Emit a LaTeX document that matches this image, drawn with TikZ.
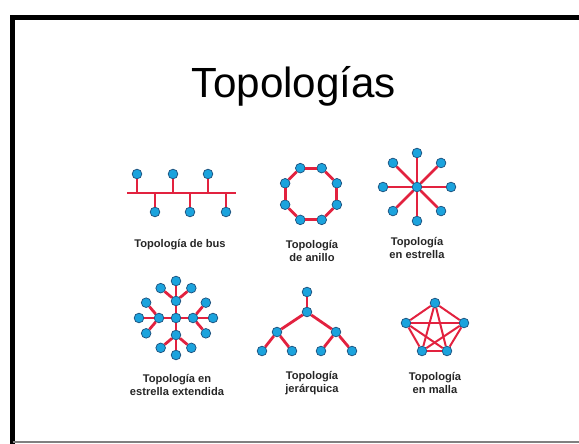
\documentclass[tikz,border=0pt]{standalone}
\usepackage{fontspec}
\setmainfont{Liberation Sans}
\definecolor{linkred}{HTML}{E2223F}
\definecolor{hostblue}{HTML}{1BA3DD}
\definecolor{hostedge}{HTML}{1C4F7C}
\begin{document}
\begin{tikzpicture}[x=0.03cm,y=-0.03cm,
  host/.style={circle,fill=hostblue,draw=hostedge,line width=0.6pt,inner sep=0pt,minimum size=0.29cm},
  link/.style={draw=linkred,line width=2.4pt},
  caption/.style={font=\bfseries\fontsize{9.5}{11}\selectfont,align=center,text=black!85}]
  \useasboundingbox (0,0) rectangle (579,444);
  % frame
  \draw[line width=0.15cm] (12.5,444) -- (12.5,17) -- (579,17);
  \draw[gray,line width=1pt] (12.5,442) -- (579,442);
  \node[font=\fontsize{36}{40}\selectfont,anchor=base] (title) at (294,97) {Topologías};

  % bus
  \coordinate (busL) at (127,193);
  \coordinate (busR) at (236,193);
  \draw[link] (busL) -- (busR);
  \foreach \x [count=\i] in {137,173,208} {
    \node[host] (bu\i) at (\x,174) {};
    \draw[link] (bu\i) -- (bu\i |- busL);
  }
  \foreach \x [count=\i] in {155,190,226} {
    \node[host] (bd\i) at (\x,212) {};
    \draw[link] (bd\i) -- (bd\i |- busL);
  }
  \node[caption] (capbus) at (180,245) {Topología de bus};

  % ring
  \coordinate (ringC) at (311,194);
  \foreach \i in {1,...,8}
    \node[host] (r\i) at ([shift={(22.5+45*\i:28)}]ringC) {};
  \foreach \i [evaluate=\i as \j using {int(mod(\i,8)+1)}] in {1,...,8}
    \draw[link] (r\i) -- (r\j);
  \node[caption] (capring) at (312,251) {Topología\\de anillo};

  % star
  \node[host] (sc) at (417,187) {};
  \foreach \a [count=\i] in {0,45,...,315} {
    \node[host] (s\i) at ([shift={(\a:34)}]sc.center) {};
    \draw[link] (sc) -- (s\i);
  }
  \node[caption] (capstar) at (417,248) {Topología\\en estrella};

  % extended star
  \node[host] (ec) at (176,318) {};
  \foreach \a [count=\i] in {0,90,180,270} {
    \node[host] (e\i) at ([shift={(\a:17)}]ec.center) {};
    \draw[link] (ec) -- (e\i);
    \foreach \b [count=\k] in {-50,0,50} {
      \node[host] (e\i\k) at ([shift={(\a+\b:20)}]e\i.center) {};
      \draw[link] (e\i) -- (e\i\k);
    }
  }
  \node[caption] (capext) at (177,385) {Topología en\\estrella extendida};

  % hierarchy
  \node[host] (h0) at (307,292) {};
  \node[host] (h1) at (307,312) {};
  \node[host] (h2) at (277,332) {};
  \node[host] (h3) at (336,332) {};
  \foreach \x [count=\i from 4] in {262,292,321,352}
    \node[host] (h\i) at (\x,351) {};
  \draw[link] (h0) -- (h1);
  \draw[link] (h1) -- (h2);
  \draw[link] (h1) -- (h3);
  \draw[link] (h2) -- (h4);
  \draw[link] (h2) -- (h5);
  \draw[link] (h3) -- (h6);
  \draw[link] (h3) -- (h7);
  \node[caption] (caphier) at (312,383) {Topología\\jerárquica};

  % mesh
  \node[host] (m1) at (435,303) {};
  \node[host] (m2) at (406,323) {};
  \node[host] (m3) at (464,323) {};
  \node[host] (m4) at (422,351) {};
  \node[host] (m5) at (447,351) {};
  \foreach \i in {1,...,4} {
    \pgfmathtruncatemacro\k{\i+1}
    \foreach \j in {\k,...,5}
      \draw[link,line width=1.7pt] (m\i) -- (m\j);
  }
  \node[caption] (capmesh) at (435,383) {Topología\\en malla};
\end{tikzpicture}
\end{document}
